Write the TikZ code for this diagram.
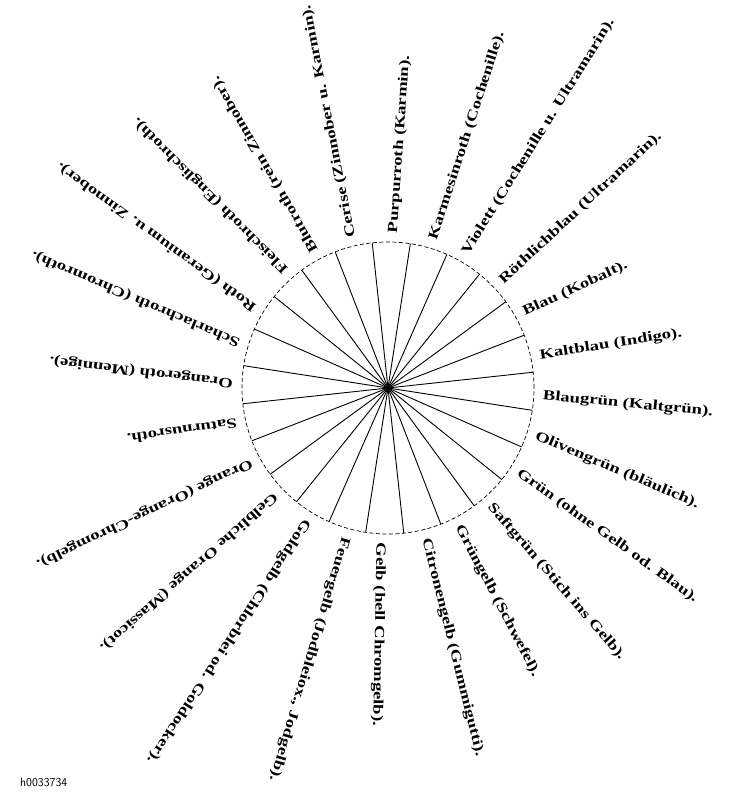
\documentclass[tikz,border=0pt]{standalone}
\usepackage{fontspec}
\newfontfamily\frakt[FakeStretch=1.33]{Liberation Serif}
\newcommand{\frlabel}{\frakt\bfseries\fontsize{14}{16}\selectfont}
\tikzset{
  spoke/.style={line width=0.9pt},
  rim/.style={line width=0.7pt, dash pattern=on 4pt off 2.5pt},
  farbe/.style={anchor=west, inner sep=0pt, font=\frlabel}
}
\begin{document}
\begin{tikzpicture}[x=1pt,y=1pt]
\useasboundingbox (-388,-412) rectangle (361,388);
\def\rot{-1.3}
\def\rad{146}
\coordinate (mitte) at (0,0);
% Farbenkreis
\draw[rim] (mitte) circle (\rad);
\foreach \k in {0,...,23}
  \draw[spoke] (mitte) -- (\k*15+7.5+\rot:\rad);
% Farbnamen: Lage am Kreis / Richtung / Text
\foreach \p/\d/\t in {88/86/{Purpurroth (Karmin).},
  73/72/{Karmesinroth (Cochenille).},
  60/58/{Violett (Cochenille u. Ultramarin).},
  43/43/{Röthlichblau (Ultramarin).},
  29/25/{Blau (Kobalt).},
  12/9/{Kaltblau (Indigo).},
  -3/-5.5/{Blaugrün (Kaltgrün).},
  -18/-23/{Olivengrün (bläulich).},
  -33/-35.5/{Grün (ohne Gelb od. Blau).},
  -49/-49/{Saftgrün (Stich ins Gelb).},
  -63/-62.5/{Grüngelb (Schwefel).},
  -76/-76/{Citronengelb (Gummigutti).},
  -93/-91/{Gelb (hell Chromgelb).},
  -106/-106.5/{Feuergelb (Jodbleiox., Jodgelb).},
  -121.5/-123/{Goldgelb (Chlorblei od. Goldocker).},
  -136.5/-138.5/{Gelbliche Orange (Massicot).},
  -151.5/-154.5/{Orange (Orange-Chromgelb).},
  -167/-171.5/{Saturnusroth.},
  178/173/{Orangeroth (Mennige).},
  163/157/{Scharlachroth (Chromroth).},
  149/144/{Roth (Geranium u. Zinnober).},
  131/135/{Fleischroth (Englischroth).},
  118/120/{Blutroth (rein Zinnober).},
  103.5/101/{Cerise (Zinnober u. Karmin).}}
  \node[farbe, rotate=\d] (name\p) at (\p:\rad+9) {\t};
\node[anchor=west, inner sep=0pt, font=\sffamily\fontsize{12}{14}\selectfont] (bildnr) at (-368,-394) {h0033734};
\end{tikzpicture}
\end{document}
